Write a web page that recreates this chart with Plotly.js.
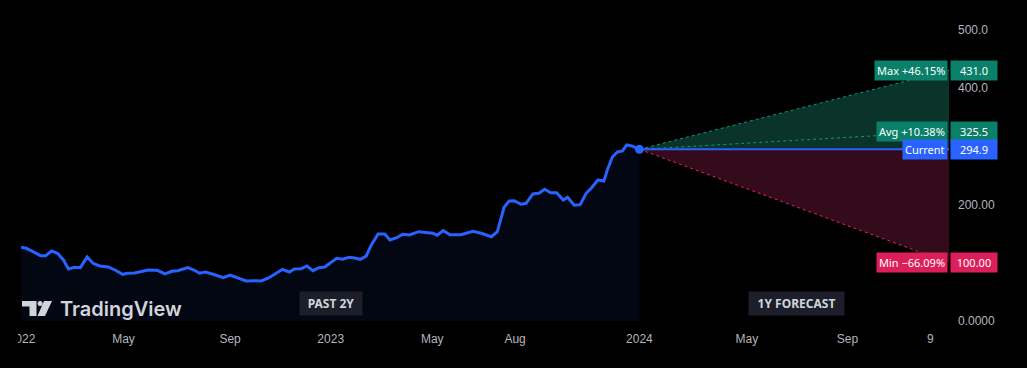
<!DOCTYPE html>
<html>
<head>
<meta charset="utf-8">
<script src="https://cdn.plot.ly/plotly-3.0.1.min.js"></script>
<style>
html,body{margin:0;padding:0;background:#000;}
#chart{width:1027px;height:368px;}
</style>
</head>
<body>
<div id="chart"></div>
<script>
// ---- data ----
const dates = [
 '2021-12-31','2022-01-06','2022-01-14','2022-01-23','2022-01-29','2022-02-05','2022-02-12','2022-02-19','2022-02-25',
 '2022-03-04','2022-03-11','2022-03-19','2022-03-26','2022-04-03','2022-04-13','2022-04-21','2022-04-30','2022-05-06',
 '2022-05-14','2022-05-24','2022-05-30','2022-06-10','2022-06-19','2022-06-27','2022-07-04','2022-07-16','2022-07-24',
 '2022-07-30','2022-08-06','2022-08-15','2022-08-27','2022-09-04','2022-09-13','2022-09-23','2022-10-05','2022-10-11',
 '2022-10-20','2022-10-29','2022-11-05','2022-11-13','2022-11-19','2022-11-27','2022-12-04','2022-12-11','2022-12-18',
 '2022-12-25','2022-12-31','2023-01-08','2023-01-15','2023-01-23','2023-01-29','2023-02-05','2023-02-12','2023-02-18',
 '2023-02-26','2023-03-06','2023-03-12','2023-03-20','2023-03-27','2023-04-04','2023-04-15','2023-04-24','2023-05-02',
 '2023-05-07','2023-05-14','2023-05-22','2023-06-04','2023-06-10','2023-06-18','2023-06-28','2023-07-10','2023-07-17',
 '2023-07-25','2023-07-31','2023-08-06','2023-08-14','2023-08-20','2023-08-28','2023-09-04','2023-09-11','2023-09-18',
 '2023-09-25','2023-10-03','2023-10-08','2023-10-16','2023-10-23','2023-10-30','2023-11-05','2023-11-13','2023-11-20',
 '2023-11-24','2023-11-30','2023-12-06','2023-12-12','2023-12-17','2023-12-23','2023-12-26','2024-01-01'
];
const prices = [
 126.6,124.9,119.1,112.2,112.2,120.3,116.3,104.8,89.3,
 92.3,91.6,110.0,99.1,94.5,92.8,87.6,80.2,82.0,
 82.5,85.9,87.6,87.1,80.8,85.4,86.4,91.6,87.1,
 82.0,84.2,80.2,74.4,79.0,74.4,68.7,69.2,68.7,
 74.4,83.0,88.8,84.2,89.3,89.9,94.5,86.4,91.6,
 92.8,99.1,107.7,106.0,109.5,108.2,106.0,111.7,130.6,
 149.5,149.5,139.2,143.1,149.0,147.8,153.4,151.7,150.7,
 147.3,155.2,148.3,148.3,150.7,154.1,150.7,144.8,153.4,
 195.4,206.2,206.7,200.5,202.2,218.2,219.4,226.3,220.4,
 220.4,207.9,212.5,198.8,199.8,219.4,228.0,242.3,240.5,
 259.5,281.8,290.4,292.1,302.4,300.7,299.0,294.9
];
const currentDate = '2024-01-01';
const forecastEnd = '2025-01-01';
const currentValue = 294.9;
const maxValue = 431.0;
const avgValue = 325.5;
const minValue = 100.00;
const maxLabel = 'Max +46.15%';
const avgLabel = 'Avg +10.38%';
const minLabel = 'Min \u221266.09%';
const currentLabel = 'Current';
const maxText = '431.0', avgText = '325.5', curText = '294.9', minText = '100.00';
const xTickVals = ['2022-01-01','2022-05-01','2022-09-04','2023-01-01','2023-05-01','2023-08-07','2024-01-01','2024-05-07','2024-09-03','2024-12-10'];
const xTickText = ['2022','May','Sep','2023','May','Aug','2024','May','Sep','9'];
const yTickVals = [0, 200, 400, 500];
const yTickText = ['0.0000','200.00','400.0','500.0'];

// ---- layout helpers (pixel -> paper) ----
const PW = 949, PH = 330;
const px = v => v / PW;
const py = v => (PH - v) / PH;

const blue = '#2962ff', green = '#089981', greenBox = '#0a7f69', red = '#e91e63', redBox = '#dc1e5a';

const traces = [
 {x: dates, y: prices, type:'scatter', mode:'lines', line:{color:blue, width:3}, fill:'tozeroy', fillcolor:'rgba(41,98,255,0.065)', hoverinfo:'skip'},
 {x:[currentDate, forecastEnd, forecastEnd], y:[currentValue, maxValue, currentValue], type:'scatter', mode:'lines', fill:'toself', fillcolor:'#0a3329', line:{width:0}, hoverinfo:'skip'},
 {x:[currentDate, forecastEnd, forecastEnd], y:[currentValue, currentValue, minValue], type:'scatter', mode:'lines', fill:'toself', fillcolor:'#330b1b', line:{width:0}, hoverinfo:'skip'},
 {x:[currentDate, forecastEnd], y:[currentValue, maxValue], type:'scatter', mode:'lines', line:{color:green, width:1, dash:'dot'}},
 {x:[currentDate, forecastEnd], y:[currentValue, avgValue], type:'scatter', mode:'lines', line:{color:green, width:1, dash:'dot'}},
 {x:[currentDate, forecastEnd], y:[currentValue, minValue], type:'scatter', mode:'lines', line:{color:red, width:1, dash:'dot'}},
 {x:[currentDate, forecastEnd], y:[currentValue, currentValue], type:'scatter', mode:'lines', line:{color:blue, width:2}},
 {x:[currentDate], y:[currentValue], type:'scatter', mode:'markers', marker:{color:blue, size:9}}
];

const boxFont = {family:'Noto Sans, Liberation Sans, sans-serif', size:11, color:'#ffffff'};
function leftBox(text, y, bg){ return {xref:'paper', yref:'y', x:1, y:y, xanchor:'right', yanchor:'middle', xshift:-1, text:text, showarrow:false, bgcolor:bg, borderpad:2, font:boxFont}; }
function rightBox(text, y, bg){ return {xref:'paper', yref:'y', x:1, y:y, xanchor:'left', yanchor:'middle', xshift:1, width:42, align:'center', text:text, showarrow:false, bgcolor:bg, borderpad:2, font:boxFont}; }
const pillFont = {family:'Noto Sans, sans-serif', size:12, color:'#d1d4dc', weight:700};

const annotations = [
 leftBox(maxLabel, maxValue, greenBox), rightBox(maxText, maxValue, greenBox),
 leftBox(avgLabel, avgValue, greenBox), rightBox(avgText, avgValue, greenBox),
 leftBox(currentLabel, currentValue, blue), rightBox(curText, currentValue, blue),
 leftBox(minLabel, minValue, redBox), rightBox(minText, minValue, redBox),
 {xref:'paper', yref:'paper', x:px(331), y:py(303), xanchor:'center', yanchor:'middle', text:'PAST 2Y', showarrow:false,
  bgcolor:'#1c1f29', borderpad:5, width:52, height:13, align:'center', font:pillFont},
 {xref:'paper', yref:'paper', x:px(796.5), y:py(303), xanchor:'center', yanchor:'middle', text:'1Y FORECAST', showarrow:false,
  bgcolor:'#1c1f29', borderpad:5, width:85, height:13, align:'center', font:pillFont},
 {xref:'paper', yref:'paper', x:px(58), y:py(309), xanchor:'left', yanchor:'middle', text:'TradingView', showarrow:false,
  font:{family:'Inter, sans-serif', size:20, color:'#d1d4dc', weight:600}}
];

function P(xp, yp){ return px(xp) + ',' + py(yp); }
const shapes = [
 // TradingView logo
 {type:'path', xref:'paper', yref:'paper', layer:'above', fillcolor:'#d1d4dc', line:{width:0},
  path:'M'+P(22,301)+' L'+P(36.5,301)+' L'+P(36.5,316)+' L'+P(29.5,316)+' L'+P(29.5,306.5)+' L'+P(22,306.5)+' Z'},
 {type:'circle', xref:'paper', yref:'paper', layer:'above', fillcolor:'#d1d4dc', line:{width:0},
  x0:px(37.6), x1:px(42.6), y0:py(306), y1:py(301)},
 {type:'path', xref:'paper', yref:'paper', layer:'above', fillcolor:'#d1d4dc', line:{width:0},
  path:'M'+P(44,301)+' L'+P(52,301)+' L'+P(45,316)+' L'+P(37.5,316)+' Z'},
 // clip of the first tick label at the left edge
 {type:'rect', xref:'paper', yref:'paper', layer:'above', fillcolor:'#000', line:{width:0},
  x0:px(-2), x1:px(18), y0:py(366), y1:py(333)}
];

const layout = {
 width:1027, height:368,
 paper_bgcolor:'#000', plot_bgcolor:'#000',
 margin:{l:0, r:78, t:0, b:38},
 showlegend:false,
 hovermode:false,
 font:{family:'Liberation Sans, sans-serif', size:12, color:'#b2b5be'},
 xaxis:{type:'date', range:['2021-12-06','2025-01-01'], showgrid:false, zeroline:false, showline:false, ticks:'',
        tickmode:'array', tickvals:xTickVals, ticktext:xTickText, tickfont:{size:12, color:'#b2b5be'}},
 yaxis:{side:'right', range:[-15.5, 551.5], showgrid:false, zeroline:false, showline:false, ticks:'',
        tickmode:'array', tickvals:yTickVals, ticktext:yTickText, ticklabelstandoff:8, tickfont:{size:12, color:'#b2b5be'}},
 annotations:annotations,
 shapes:shapes
};

Plotly.newPlot('chart', traces, layout, {displayModeBar:false, staticPlot:true});
</script>
</body>
</html>
